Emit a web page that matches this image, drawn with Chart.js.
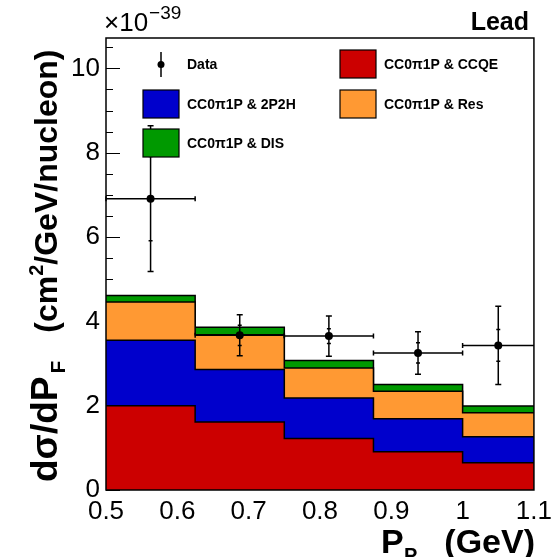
<!DOCTYPE html>
<html>
<head>
<meta charset="utf-8">
<script src="https://cdn.jsdelivr.net/npm/chart.js@4"></script>
<style>
  html, body { margin: 0; padding: 0; background: #fff; }
  #c { display: block; }
</style>
</head>
<body>
<canvas id="c" width="558" height="557"></canvas>
<script>
// Bin edges of P_P (GeV)
const binEdges = [0.5, 0.625, 0.75, 0.875, 1.0, 1.1];

// Stacked MC contributions (x1e-39 cm2/GeV/nucleon)
const ccqe   = [2.00, 1.61, 1.22, 0.905, 0.645];
const twoP2H = [1.55, 1.245, 0.96, 0.785, 0.615];
const resVal = [0.91, 0.83, 0.715, 0.65, 0.57];
const disVal = [0.15, 0.175, 0.175, 0.16, 0.16];

// Data points
const dataX   = [0.5625, 0.6875, 0.8125, 0.9375, 1.05];
const dataY   = [6.91, 3.67, 3.65, 3.25, 3.43];
const statErr = [1.00, 0.24, 0.175, 0.24, 0.375];
const totErr  = [1.73, 0.485, 0.475, 0.505, 0.93];

// Axis ticks
const xTickValues = [0.5, 0.6, 0.7, 0.8, 0.9, 1.0, 1.1];
const yTickValues = [0, 2, 4, 6, 8, 10];
const yMinorTicks = [0.5, 1, 1.5, 2.5, 3, 3.5, 4.5, 5, 5.5, 6.5, 7, 7.5, 8.5, 9, 9.5, 10.5];

const RED = 'rgb(204,0,0)';
const BLUE = 'rgb(0,0,204)';
const ORANGE = 'rgb(255,153,51)';
const GREEN = 'rgb(0,153,0)';
const FONT = '"Liberation Sans", Arial, sans-serif';

// one point per bin edge, last value repeated so the final bin closes at 1.1
function stepData(vals) {
    return binEdges.map((x, i) => ({ x: x, y: vals[Math.max(i - 1, 0)] }));
}

function stackLayer(label, vals, color, fill) {
    return {
        type: 'line',
        label: label,
        data: stepData(vals),
        stepped: 'after',
        borderColor: '#000',
        borderWidth: 1.5,
        backgroundColor: color,
        fill: fill,
        pointRadius: 0
    };
}

// Ticks inside the frame, ROOT style (drawn before the fills)
const ticksPlugin = {
    id: 'rootTicks',
    beforeDatasetsDraw(chart) {
        const ctx = chart.ctx;
        const a = chart.chartArea;
        const y = chart.scales.y;
        ctx.save();
        ctx.strokeStyle = '#000';
        ctx.lineWidth = 1;
        ctx.beginPath();
        yTickValues.forEach(v => {
            const p = Math.round(y.getPixelForValue(v)) + 0.5;
            ctx.moveTo(a.left, p); ctx.lineTo(a.left + 14, p);
        });
        yMinorTicks.forEach(v => {
            const p = Math.round(y.getPixelForValue(v)) + 0.5;
            ctx.moveTo(a.left, p); ctx.lineTo(a.left + 7, p);
        });
        ctx.stroke();
        ctx.restore();
    }
};

// Error bars, legend, frame and texts
const overlayPlugin = {
    id: 'overlay',
    afterDatasetsDraw(chart) {
        const ctx = chart.ctx;
        const a = chart.chartArea;
        const xs = chart.scales.x;
        const ys = chart.scales.y;
        ctx.save();
        ctx.strokeStyle = '#000';
        ctx.lineWidth = 1.5;

        // error bars
        dataX.forEach((xv, i) => {
            const px = xs.getPixelForValue(xv);
            const py = ys.getPixelForValue(dataY[i]);
            const x0 = xs.getPixelForValue(binEdges[i]);
            const x1 = xs.getPixelForValue(binEdges[i + 1]);
            const yt = ys.getPixelForValue(dataY[i] + totErr[i]);
            const yb = ys.getPixelForValue(dataY[i] - totErr[i]);
            const st = ys.getPixelForValue(dataY[i] + statErr[i]);
            const sb = ys.getPixelForValue(dataY[i] - statErr[i]);
            ctx.beginPath();
            ctx.moveTo(x0, py); ctx.lineTo(x1, py);
            ctx.moveTo(x0, py - 2.5); ctx.lineTo(x0, py + 2.5);
            if (i < dataX.length - 1) { ctx.moveTo(x1, py - 2.5); ctx.lineTo(x1, py + 2.5); }
            ctx.moveTo(px, yt); ctx.lineTo(px, yb);
            ctx.moveTo(px - 3, yt); ctx.lineTo(px + 3, yt);
            ctx.moveTo(px - 3, yb); ctx.lineTo(px + 3, yb);
            ctx.moveTo(px - 2, st); ctx.lineTo(px + 2, st);
            ctx.moveTo(px - 2, sb); ctx.lineTo(px + 2, sb);
            ctx.stroke();
            ctx.beginPath();
            ctx.arc(px, py, 4, 0, Math.PI * 2);
            ctx.fillStyle = '#000';
            ctx.fill();
        });

        // legend
        const boxes = [
            { x: 143, y: 90, c: BLUE, t: 'CC0\u03C01P & 2P2H' },
            { x: 143, y: 129, c: GREEN, t: 'CC0\u03C01P & DIS' },
            { x: 340, y: 50, c: RED, t: 'CC0\u03C01P & CCQE' },
            { x: 340, y: 90, c: ORANGE, t: 'CC0\u03C01P & Res' }
        ];
        ctx.font = 'bold 14px ' + FONT;
        ctx.textBaseline = 'middle';
        ctx.textAlign = 'left';
        boxes.forEach(b => {
            ctx.fillStyle = b.c;
            ctx.fillRect(b.x, b.y, 36, 28);
            ctx.lineWidth = 1.2;
            ctx.strokeStyle = '#000';
            ctx.strokeRect(b.x, b.y, 36, 28);
            ctx.fillStyle = '#000';
            ctx.fillText(b.t, b.x + 44, b.y + 15);
        });
        // data entry
        ctx.lineWidth = 1.5;
        ctx.beginPath();
        ctx.moveTo(161, 52); ctx.lineTo(161, 77);
        ctx.stroke();
        ctx.beginPath();
        ctx.arc(161, 64.5, 3.5, 0, Math.PI * 2);
        ctx.fill();
        ctx.fillText('Data', 187, 65);

        // frame
        ctx.lineWidth = 1.5;
        ctx.strokeRect(a.left, a.top, a.right - a.left, a.bottom - a.top);

        // exponent
        ctx.textBaseline = 'alphabetic';
        ctx.font = '26px ' + FONT;
        ctx.fillText('\u00D710', 104, 31);
        const w = ctx.measureText('\u00D710').width;
        ctx.font = '19px ' + FONT;
        ctx.fillText('\u221239', 104 + w + 1, 19);

        // target label
        ctx.font = 'bold 25px ' + FONT;
        ctx.textAlign = 'right';
        ctx.fillText('Lead', 529, 30);

        // x title
        ctx.font = 'bold 34px ' + FONT;
        ctx.fillText('(GeV)', 535, 553);
        ctx.textAlign = 'left';
        ctx.fillText('P', 381, 553);
        ctx.font = 'bold 20px ' + FONT;
        ctx.fillText('P', 404, 562);

        // y title (rotated)
        ctx.translate(57, 482);
        ctx.rotate(-Math.PI / 2);
        let x = 0;
        const part = (txt, size, dy) => {
            ctx.font = 'bold ' + size + 'px ' + FONT;
            ctx.fillText(txt, x, dy);
            x += ctx.measureText(txt).width;
        };
        part('d\u03C3/dP', 37, 0);
        x += 3;
        part('F', 21, 8);
        x += 28;
        part('(cm', 32, 0);
        part('2', 20, -14);
        part('/GeV/nucleon)', 32, 0);
        ctx.restore();
    }
};

new Chart(document.getElementById('c'), {
    data: {
        datasets: [
            stackLayer('CC0\u03C01P & CCQE', ccqe, RED, 'origin'),
            stackLayer('CC0\u03C01P & 2P2H', twoP2H, BLUE, '-1'),
            stackLayer('CC0\u03C01P & Res', resVal, ORANGE, '-1'),
            stackLayer('CC0\u03C01P & DIS', disVal, GREEN, '-1')
        ]
    },
    options: {
        responsive: false,
        animation: false,
        devicePixelRatio: 1,
        layout: { padding: { top: 38, right: 22, left: 0, bottom: 0 } },
        plugins: {
            legend: { display: false },
            tooltip: { enabled: false }
        },
        scales: {
            x: {
                type: 'linear',
                min: 0.5,
                max: 1.1,
                afterBuildTicks: s => { s.ticks = xTickValues.map(v => ({ value: v })); },
                afterFit: s => { s.height = 67; },
                grid: { display: false, drawTicks: false },
                border: { display: false },
                ticks: {
                    padding: 6,
                    color: '#000',
                    maxRotation: 0,
                    autoSkip: false,
                    font: { family: FONT, size: 26 },
                    callback: v => String(Number(v.toFixed(1)))
                }
            },
            y: {
                type: 'linear',
                stacked: true,
                min: 0,
                max: 10.72,
                afterBuildTicks: s => { s.ticks = yTickValues.map(v => ({ value: v })); },
                afterFit: s => { s.width = 106; },
                grid: { display: false, drawTicks: false },
                border: { display: false },
                ticks: {
                    padding: 6,
                    color: '#000',
                    autoSkip: false,
                    font: { family: FONT, size: 26 },
                    callback: v => String(v)
                }
            }
        }
    },
    plugins: [ticksPlugin, overlayPlugin]
});
</script>
</body>
</html>
